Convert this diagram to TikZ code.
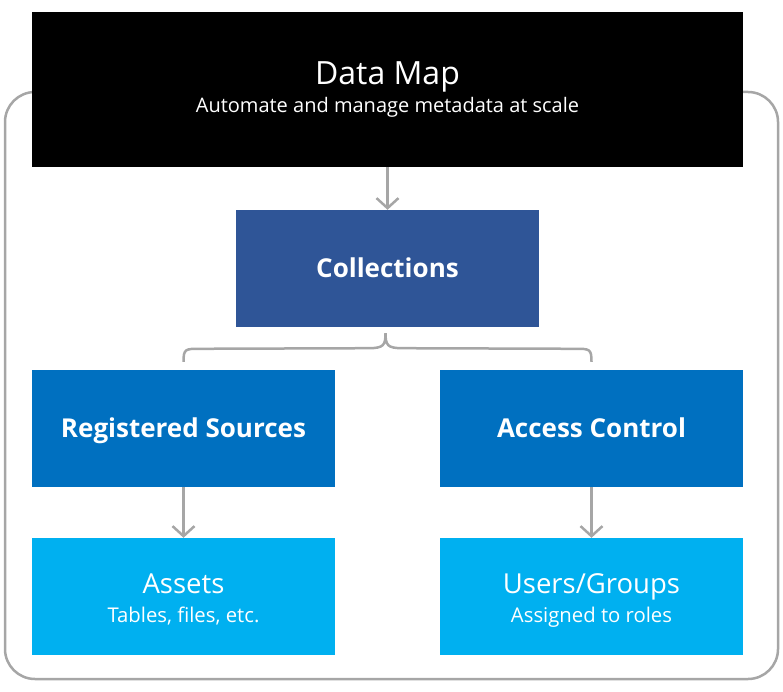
\documentclass[tikz,border=0pt]{standalone}
\usepackage{fontspec}
\setmainfont{Open Sans}
\usetikzlibrary{arrows.meta,calc}
\definecolor{linegray}{HTML}{A6A6A6}
\definecolor{colblue}{HTML}{2F5597}
\definecolor{midblue}{HTML}{0070C0}
\definecolor{lightblue}{HTML}{00B0F0}
\tikzset{
  box/.style={draw=none, inner sep=0pt, minimum width=303pt, minimum height=117pt, text=white, align=center},
  one/.style={text height=18.5pt, text depth=0pt},
  txt/.style={inner sep=0pt, text=white, anchor=base},
  arr/.style={draw=linegray, line width=2.5pt, -{Straight Barb[length=10pt,width=22pt,line width=2.5pt]}},
  outline/.style={draw=linegray, line width=2.5pt, rounded corners=30pt},
  brace/.style={draw=linegray, line width=2.5pt},
}
\newcommand{\ttl}{\fontsize{32}{36}\selectfont}
\newcommand{\lbl}{\fontsize{26}{30}\selectfont\bfseries}
\newcommand{\lblr}{\fontsize{27.5}{30}\selectfont}
\newcommand{\sub}{\fontsize{20.3}{24}\selectfont}
\newcommand{\subt}{\fontsize{20}{24}\selectfont}
\begin{document}
\begin{tikzpicture}[x=1pt,y=-1pt]
\useasboundingbox (0,0) rectangle (783,692);
\draw[outline] (5,92) rectangle (778,679);
\node[box, fill=black, minimum width=711pt, minimum height=155pt] (dm) at (387.5,89.5) {};
\node[txt, font=\ttl] (dmt) at ($(dm.center)+(0,-4.5)$) {Data Map};
\node[txt, font=\subt] (dms) at ($(dm.center)+(0,23.5)$) {Automate and manage metadata at scale};
\node[box, one, fill=colblue] (col) at (387.5,268.5) {\lbl Collections};
\node[box, one, fill=midblue] (rs) at (183.5,428.5) {\lbl Registered Sources};
\node[box, one, fill=midblue] (ac) at (591.5,428.5) {\lbl Access Control};
\node[box, fill=lightblue] (as) at (183.5,596.5) {};
\node[txt, font=\lblr] (ast) at ($(as.center)+(0,-3.5)$) {Assets};
\node[txt, font=\sub] (ass) at ($(as.center)+(0,25.5)$) {Tables, files, etc.};
\node[box, fill=lightblue] (ug) at (591.5,596.5) {};
\node[txt, font=\lblr] (ugt) at ($(ug.center)+(0,-3.5)$) {Users/Groups};
\node[txt, font=\sub] (ugs) at ($(ug.center)+(0,25.5)$) {Assigned to roles};
\draw[arr] (dm.south) -- (col.north);
\draw[arr] (rs.south) -- (as.north);
\draw[arr] (ac.south) -- (ug.north);
\coordinate (bl) at ($(rs.north)+(0,-8)$);
\coordinate (br) at ($(ac.north)+(0,-8)$);
\coordinate (bt) at ($(col.south)+(-2,6)$);
\draw[brace] (bl) .. controls ($(bl)+(0,-13)$) and ($(bl)+(2,-13)$) .. ($(bl)+(16,-13)$)
  -- ($(bt)+(-17,15)$) .. controls ($(bt)+(-2,15)$) and ($(bt)+(0,12)$) .. (bt)
  .. controls ($(bt)+(0,12)$) and ($(bt)+(2,15)$) .. ($(bt)+(17,15)$)
  -- ($(br)+(-16,-13)$) .. controls ($(br)+(-2,-13)$) and ($(br)+(0,-13)$) .. (br);
\end{tikzpicture}
\end{document}
